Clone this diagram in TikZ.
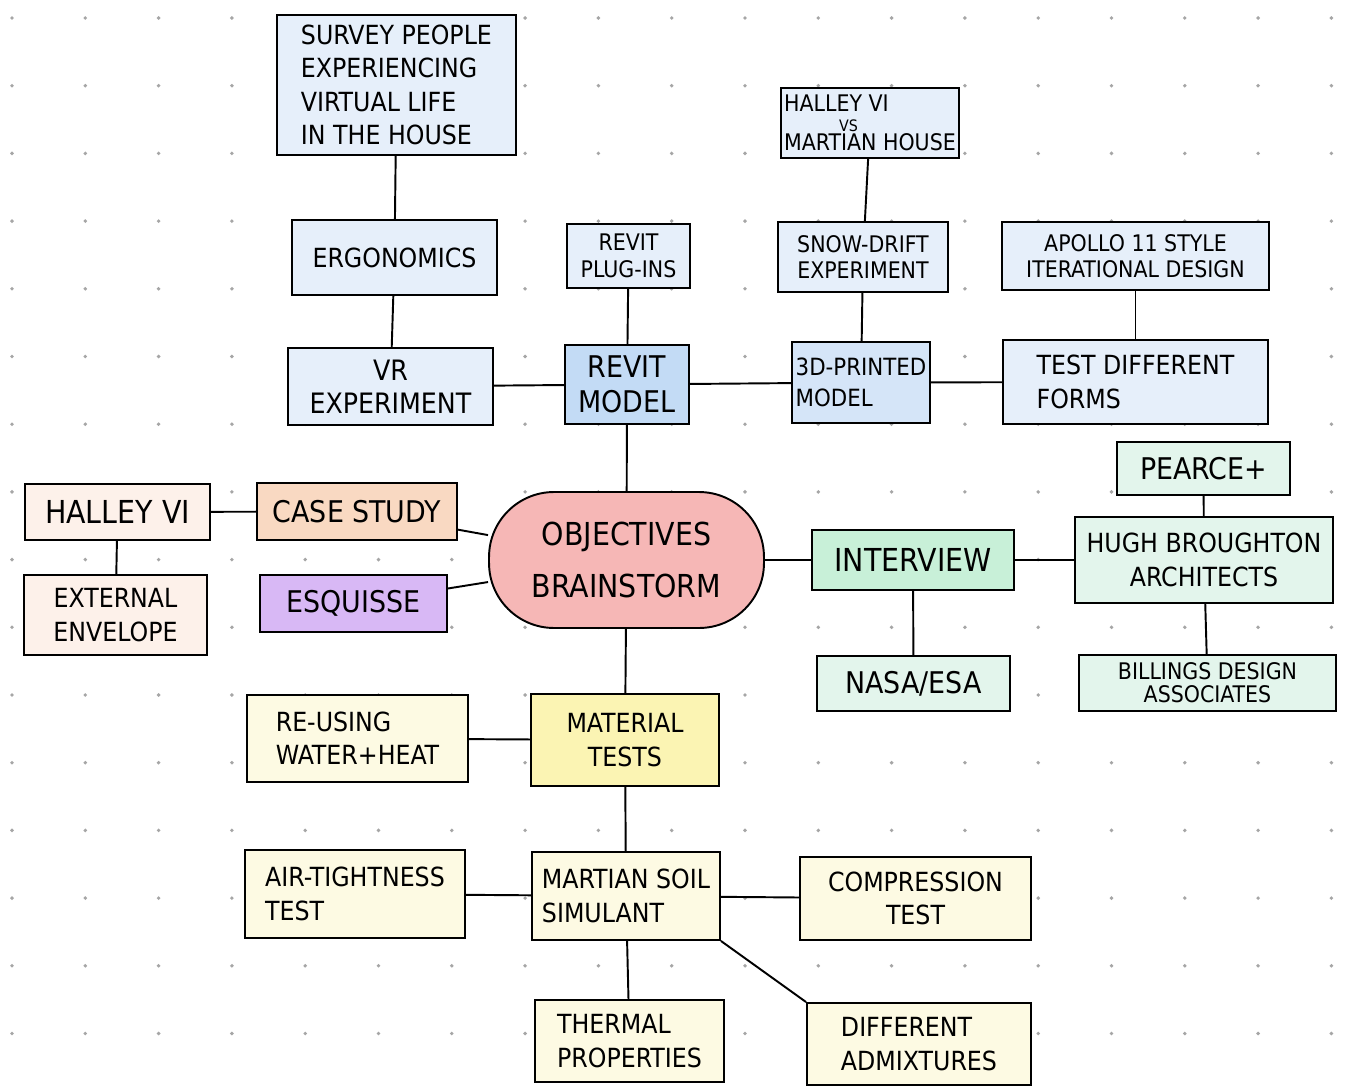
\documentclass[tikz,border=0pt]{standalone}
\usepackage{fontspec}
\setmainfont{DejaVu Sans Condensed}
\definecolor{blueLt}{HTML}{E6EFFA}
\definecolor{blueMd}{HTML}{D5E5F8}
\definecolor{blueDk}{HTML}{C3DBF5}
\definecolor{greenLt}{HTML}{E3F5EC}
\definecolor{greenDk}{HTML}{C8F0D8}
\definecolor{pillRed}{HTML}{F6B7B6}
\definecolor{peachDk}{HTML}{F9D9C2}
\definecolor{peachLt}{HTML}{FDF1EA}
\definecolor{lilac}{HTML}{D8B8F5}
\definecolor{yellowDk}{HTML}{FBF4B3}
\definecolor{yellowLt}{HTML}{FDFAE3}
\tikzset{
  idea/.style={draw,line width=1.1pt,align=center,inner sep=2pt,font=\fontsize{15}{19}\selectfont},
  smallidea/.style={idea,font=\fontsize{13}{15}\selectfont},
  link/.style={line width=1.1pt}
}
\begin{document}
\begin{tikzpicture}[x=0.02cm,y=-0.02cm]
  \useasboundingbox (0,0) rectangle (1349,1088);
  \fill[white] (0,0) rectangle (1349,1088);
  \foreach \i in {0,...,18}
    \foreach \j in {0,...,15}
      \fill[gray!70] ({12+73.3*\i},{18+67.7*\j}) circle (1.1pt);

  % centre
  \node[idea,fill=pillRed,rounded corners=1.3cm,minimum width=5.5cm,minimum height=2.72cm,font=\fontsize{18}{30}\selectfont] (obj) at (626.5,560) {OBJECTIVES\\BRAINSTORM};

  % revit branch
  \node[idea,fill=blueDk,minimum width=2.48cm,minimum height=1.58cm,font=\fontsize{17}{20}\selectfont] (revit) at (627,384.5) {REVIT\\MODEL};
  \node[smallidea,fill=blueLt,minimum width=2.46cm,minimum height=1.28cm] (plugin) at (628.5,256) {REVIT\\PLUG-INS};
  \node[idea,fill=blueLt,minimum width=4.1cm,minimum height=1.54cm,font=\fontsize{16}{19}\selectfont] (vr) at (390.5,386.5) {VR\\EXPERIMENT};
  \node[idea,fill=blueLt,minimum width=4.1cm,minimum height=1.5cm] (ergo) at (394.5,257.5) {ERGONOMICS};
  \node[idea,fill=blueLt,minimum width=4.78cm,minimum height=2.8cm,align=left] (survey) at (396.5,85) {SURVEY PEOPLE\\EXPERIENCING\\VIRTUAL LIFE\\IN THE HOUSE};
  \node[idea,fill=blueMd,minimum width=2.76cm,minimum height=1.62cm,align=left,font=\fontsize{13.5}{18}\selectfont] (print) at (861,382.5) {3D-PRINTED\\MODEL};
  \node[smallidea,fill=blueLt,minimum width=3.4cm,minimum height=1.4cm] (snow) at (863,257) {SNOW-DRIFT\\EXPERIMENT};
  \node[smallidea,fill=blueLt,minimum width=3.56cm,minimum height=1.4cm,align=left] (hvm) at (870,123) {HALLEY VI\\[-4pt]\hspace{1.1cm}{\fontsize{9}{9}\selectfont VS}\\[-4pt]MARTIAN HOUSE};
  \node[idea,fill=blueLt,minimum width=5.3cm,minimum height=1.68cm,align=left] (forms) at (1135.5,382) {TEST DIFFERENT\\FORMS\hspace{2.2cm}};
  \node[smallidea,fill=blueLt,minimum width=5.34cm,minimum height=1.36cm] (apollo) at (1135.5,256) {APOLLO 11 STYLE\\ITERATIONAL DESIGN};

  % interview branch
  \node[idea,fill=greenDk,minimum width=4.04cm,minimum height=1.2cm,font=\fontsize{18}{20}\selectfont] (interview) at (913,560) {INTERVIEW};
  \node[idea,fill=greenLt,minimum width=3.86cm,minimum height=1.1cm,font=\fontsize{17}{20}\selectfont] (nasa) at (913.5,683.5) {NASA/ESA};
  \node[idea,fill=greenLt,minimum width=5.16cm,minimum height=1.72cm] (hugh) at (1204,560) {HUGH BROUGHTON\\ARCHITECTS};
  \node[idea,fill=greenLt,minimum width=3.46cm,minimum height=1.06cm,font=\fontsize{17}{20}\selectfont] (pearce) at (1203.5,468.5) {PEARCE+};
  \node[smallidea,fill=greenLt,minimum width=5.14cm,minimum height=1.12cm,font=\fontsize{13}{13}\selectfont] (billings) at (1207.5,683) {BILLINGS DESIGN\\ASSOCIATES};

  % case study branch
  \node[idea,fill=peachDk,minimum width=4.0cm,minimum height=1.14cm,font=\fontsize{17}{20}\selectfont] (case) at (357,511.5) {CASE STUDY};
  \node[idea,fill=peachLt,minimum width=3.7cm,minimum height=1.12cm,font=\fontsize{18}{20}\selectfont] (halley) at (117.5,512) {HALLEY VI};
  \node[idea,fill=peachLt,minimum width=3.66cm,minimum height=1.6cm] (envelope) at (115.5,615) {EXTERNAL\\ENVELOPE};
  \node[idea,fill=lilac,minimum width=3.74cm,minimum height=1.14cm,font=\fontsize{17}{20}\selectfont] (esquisse) at (353.5,603.5) {ESQUISSE};

  % material branch
  \node[idea,fill=yellowDk,minimum width=3.76cm,minimum height=1.84cm] (material) at (625,740) {MATERIAL\\TESTS};
  \node[idea,fill=yellowLt,minimum width=4.42cm,minimum height=1.74cm,align=left] (reuse) at (357.5,738.5) {RE-USING\\WATER+HEAT};
  \node[idea,fill=yellowLt,minimum width=3.76cm,minimum height=1.76cm,align=left] (soil) at (626,896) {MARTIAN SOIL\\SIMULANT};
  \node[idea,fill=yellowLt,minimum width=4.4cm,minimum height=1.76cm,align=left] (air) at (355,894) {AIR-TIGHTNESS\\TEST};
  \node[idea,fill=yellowLt,minimum width=4.62cm,minimum height=1.66cm] (comp) at (915.5,898.5) {COMPRESSION\\TEST};
  \node[idea,fill=yellowLt,minimum width=3.78cm,minimum height=1.64cm,align=left] (thermal) at (629.5,1041) {THERMAL\\PROPERTIES};
  \node[idea,fill=yellowLt,minimum width=4.48cm,minimum height=1.64cm,align=left] (admix) at (919,1044) {DIFFERENT\\ADMIXTURES};

  % links
  \draw[link] (survey) -- (ergo);
  \draw[link] (ergo) -- (vr);
  \draw[link] (vr) -- (revit);
  \draw[link] (plugin) -- (revit);
  \draw[link] (revit) -- (print);
  \draw[link] (hvm) -- (snow);
  \draw[link] (snow) -- (print);
  \draw[link] (print) -- (forms);
  \draw[link] (apollo) -- (forms);
  \draw[link] (revit) -- (obj);
  \draw[link] (obj) -- (case);
  \draw[link] (case) -- (halley);
  \draw[link] (halley) -- (envelope);
  \draw[link] (obj) -- (esquisse);
  \draw[link] (obj) -- (interview);
  \draw[link] (interview) -- (hugh);
  \draw[link] (pearce) -- (hugh);
  \draw[link] (hugh) -- (billings);
  \draw[link] (interview) -- (nasa);
  \draw[link] (obj) -- (material);
  \draw[link] (material) -- (reuse);
  \draw[link] (material) -- (soil);
  \draw[link] (soil) -- (air);
  \draw[link] (soil) -- (comp);
  \draw[link] (soil) -- (thermal);
  \draw[link] (soil.south east) -- (admix.north west);
\end{tikzpicture}
\end{document}
